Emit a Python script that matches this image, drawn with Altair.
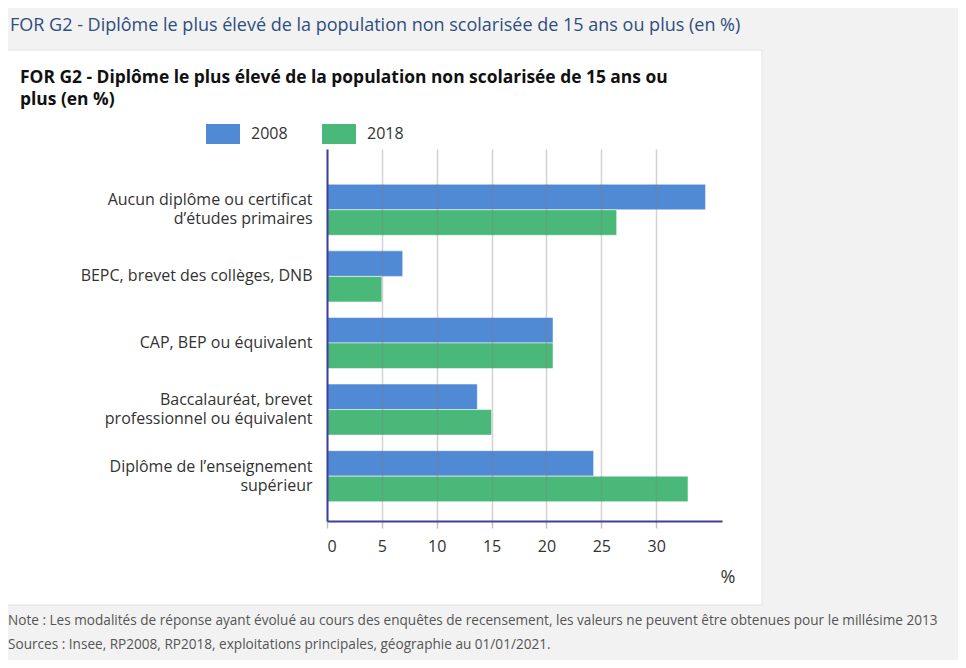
import altair as alt
import pandas as pd

# ---- data ----
categories = [
    "Aucun diplôme ou certificat|d’études primaires",
    "BEPC, brevet des collèges, DNB",
    "CAP, BEP ou équivalent",
    "Baccalauréat, brevet|professionnel ou équivalent",
    "Diplôme de l’enseignement|supérieur",
]
years = ["2008", "2018"]
values_2008 = [34.5, 6.9, 20.6, 13.7, 24.3]
values_2018 = [26.4, 5.0, 20.6, 15.0, 32.9]
x_ticks = [0, 5, 10, 15, 20, 25, 30]
colors = ["#5089d4", "#4ab878"]

header_text = "FOR G2 - Diplôme le plus élevé de la population non scolarisée de 15 ans ou plus (en %)"
title_lines = [
    "FOR G2 - Diplôme le plus élevé de la population non scolarisée de 15 ans ou",
    "plus (en %)",
]
note_lines = [
    "Note : Les modalités de réponse ayant évolué au cours des enquêtes de recensement, les valeurs ne peuvent être obtenues pour le millésime 2013",
    "Sources : Insee, RP2008, RP2018, exploitations principales, géographie au 01/01/2021.",
]
unit_label = "%"

rows = []
for c, v in zip(categories, values_2008):
    rows.append({"cat": c, "year": "2008", "value": v})
for c, v in zip(categories, values_2018):
    rows.append({"cat": c, "year": "2018", "value": v})
df = pd.DataFrame(rows)
one = pd.DataFrame({"k": [0]})

FONT = "Open Sans"
AXIS_COL = "#3f3f9f"

card = alt.Chart(one).mark_rect(fill="white", stroke="#e2e2e2", strokeWidth=1).encode(
    x=alt.value(-324), x2=alt.value(435), y=alt.value(-99), y2=alt.value(456)
)

bars = alt.Chart(df).mark_bar(stroke="white", strokeOpacity=0.5, strokeWidth=1).encode(
    y=alt.Y(
        "cat:N",
        sort=categories,
        scale=alt.Scale(paddingInner=0.234, paddingOuter=0.41, align=0.646),
        axis=alt.Axis(
            title=None,
            labelExpr="split(datum.label, '|')",
            labelFont=FONT,
            labelFontSize=16,
            labelColor="#333333",
            labelPadding=15,
            labelLineHeight=19,
            labelLimit=400,
            labelOffset={"condition": {"test": "indexof(datum.value, '|') >= 0", "value": -9.5}, "value": 0},
            ticks=False,
            grid=False,
            domainColor=AXIS_COL,
            domainWidth=2,
            zindex=1,
        ),
    ),
    yOffset=alt.YOffset("year:N", sort=years, scale=alt.Scale(paddingInner=0, paddingOuter=0)),
    x=alt.X(
        "value:Q",
        scale=alt.Scale(domain=[0, 36], nice=False, zero=True),
        axis=alt.Axis(
            title=None,
            values=x_ticks,
            grid=True,
            gridColor="#7f7f7f",
            gridOpacity=0.35,
            gridWidth=1.5,
            tickColor="#c0c0c0",
            tickSize=7,
            tickWidth=1.5,
            domainColor=AXIS_COL,
            domainWidth=2,
            labelFont=FONT,
            labelFontSize=16,
            labelColor="#333333",
            labelPadding=10,
            zindex=1,
        ),
    ),
    color=alt.Color(
        "year:N",
        scale=alt.Scale(domain=years, range=colors),
        legend=alt.Legend(
            orient="none",
            legendX=-121,
            legendY=-32,
            direction="horizontal",
            title=None,
            symbolType="M-1,-0.588H1V0.588H-1Z",
            symbolSize=1156,
            symbolStrokeWidth=0,
            symbolOpacity=1,
            labelFont=FONT,
            labelFontSize=16,
            labelColor="#333333",
            labelOffset=11,
            columnPadding=34,
            padding=0,
        ),
    ),
)

header = alt.Chart(one).mark_text(
    text=header_text, align="left", baseline="middle", font=FONT, fontSize=18, color="#2d4e80"
).encode(x=alt.value(-317), y=alt.value(-123))

title1 = alt.Chart(one).mark_text(
    text=title_lines[0], align="left", baseline="middle", font=FONT, fontSize=17.4,
    fontWeight="bold", color="#111111"
).encode(x=alt.value(-307), y=alt.value(-71))

title2 = alt.Chart(one).mark_text(
    text=title_lines[1], align="left", baseline="middle", font=FONT, fontSize=17.4,
    fontWeight="bold", color="#111111"
).encode(x=alt.value(-307), y=alt.value(-49))

unit = alt.Chart(one).mark_text(
    text=unit_label, align="center", baseline="middle", font=FONT, fontSize=18, color="#333333"
).encode(x=alt.value(401), y=alt.value(429))

note1 = alt.Chart(one).mark_text(
    text=note_lines[0], align="left", baseline="middle", font=FONT, fontSize=13.6, color="#555555"
).encode(x=alt.value(-319), y=alt.value(472))

note2 = alt.Chart(one).mark_text(
    text=note_lines[1], align="left", baseline="middle", font=FONT, fontSize=13.6, color="#555555"
).encode(x=alt.value(-319), y=alt.value(496))

chart = alt.layer(card, bars, header, title1, title2, unit, note1, note2).properties(
    width=395,
    height=372,
    background="#f2f2f2",
    padding={"left": 319, "top": 141, "right": 236, "bottom": 139},
    autosize=alt.AutoSizeParams(type="none"),
).configure_view(stroke=None)

chart.save("out.html", embed_options={"renderer": "svg", "actions": False})
